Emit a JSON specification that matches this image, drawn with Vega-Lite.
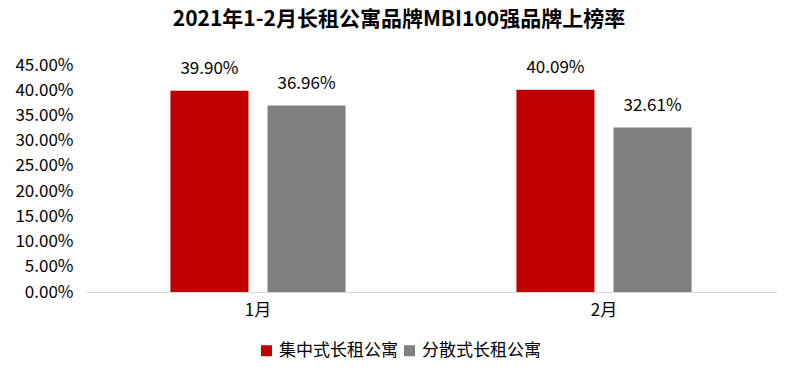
{
  "$schema": "https://vega.github.io/schema/vega-lite/v6.json",
  "autosize": "none",
  "width": 692,
  "height": 227,
  "padding": {"left": 85, "top": 65, "right": 23, "bottom": 92},
  "background": "white",
  "config": {"view": {"stroke": null}},
  "title": {
    "text": "2021年1-2月长租公寓品牌MBI100强品牌上榜率",
    "font": "Noto Sans CJK SC",
    "fontSize": 21,
    "fontWeight": "bold",
    "color": "#000000",
    "anchor": "middle",
    "dx": -32,
    "offset": 26
  },
  "data": {
    "values": [
      {"month": "1月", "type": "集中式长租公寓", "rate": 0.399},
      {"month": "1月", "type": "分散式长租公寓", "rate": 0.3696},
      {"month": "2月", "type": "集中式长租公寓", "rate": 0.4009},
      {"month": "2月", "type": "分散式长租公寓", "rate": 0.3261}
    ]
  },
  "encoding": {
    "x": {
      "field": "month",
      "type": "nominal",
      "sort": ["1月", "2月"],
      "scale": {"paddingInner": 0, "paddingOuter": 0},
      "axis": {
        "title": null,
        "labelAngle": 0,
        "ticks": false,
        "domainColor": "#d9d9d9",
        "domainWidth": 1,
        "labelFont": "Noto Sans CJK SC",
        "labelFontSize": 17,
        "labelColor": "#000000",
        "labelPadding": 10
      }
    },
    "xOffset": {
      "field": "type",
      "type": "nominal",
      "sort": ["集中式长租公寓", "分散式长租公寓"],
      "scale": {"paddingInner": 0.196, "paddingOuter": 0.88}
    },
    "y": {
      "field": "rate",
      "type": "quantitative",
      "scale": {"domain": [0, 0.45], "nice": false},
      "axis": {
        "title": null,
        "format": ".2%",
        "values": [0, 0.05, 0.1, 0.15, 0.2, 0.25, 0.3, 0.35, 0.4, 0.45],
        "grid": false,
        "domain": false,
        "ticks": false,
        "labelPadding": 12,
        "labelFont": "Noto Sans CJK SC",
        "labelFontSize": 17,
        "labelColor": "#000000"
      }
    }
  },
  "layer": [
    {
      "mark": {"type": "bar"},
      "encoding": {
        "color": {
          "field": "type",
          "type": "nominal",
          "sort": ["集中式长租公寓", "分散式长租公寓"],
          "scale": {"domain": ["集中式长租公寓", "分散式长租公寓"], "range": ["#C00000", "#7F7F7F"]},
          "legend": {
            "title": null,
            "orient": "none",
            "direction": "horizontal",
            "legendX": 173,
            "legendY": 277,
            "symbolType": "square",
            "symbolSize": 121,
            "symbolStrokeWidth": 0,
            "labelFont": "Noto Sans CJK SC",
            "labelFontSize": 17,
            "labelColor": "#000000",
            "labelOffset": 4,
            "columnPadding": 3
          }
        }
      }
    },
    {
      "mark": {"type": "text", "baseline": "alphabetic", "dy": -17, "font": "Noto Sans CJK SC", "fontSize": 17, "color": "#000000"},
      "encoding": {
        "text": {"field": "rate", "type": "quantitative", "format": ".2%"}
      }
    }
  ]
}
